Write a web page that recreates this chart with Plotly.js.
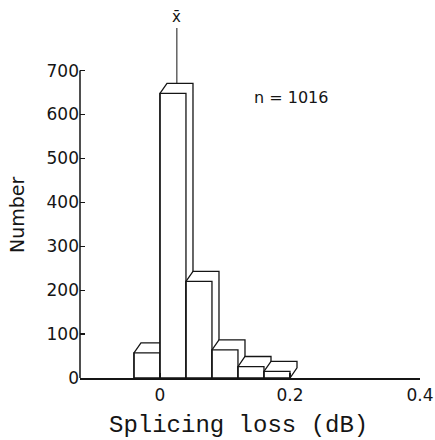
<!DOCTYPE html>
<html>
<head>
<meta charset="utf-8">
<script src="https://cdn.plot.ly/plotly-3.0.1.min.js"></script>
<style>html,body{margin:0;padding:0;background:#fff;}#chart{width:435px;height:440px;}</style>
</head>
<body>
<div id="chart"></div>
<script>
// Data
const binStarts = [-0.04, 0.00, 0.04, 0.08, 0.12, 0.16];
const binWidth = 0.04;
const counts = [57, 648, 220, 64, 26, 15];
const meanLoss = 0.026;
const sampleSize = 1016;
const xTickVals = [0, 0.2, 0.4];
const xTickText = ['0', '0.2', '0.4'];
const yTickVals = [0, 100, 200, 300, 400, 500, 600, 700];

// Pseudo-3D depth offset (in axis units)
const depthX = 0.0108;
const depthY = 23;

const ink = '#151515';
const traces = [];
binStarts.forEach((x0, i) => {
  const x1 = x0 + binWidth, h = counts[i];
  // outline of the whole block (front + top + side)
  traces.push({
    type: 'scatter', mode: 'lines', fill: 'toself', fillcolor: '#ffffff',
    x: [x0, x0, x0 + depthX, x1 + depthX, x1 + depthX, x1, x0],
    y: [0, h, h + depthY, h + depthY, depthY, 0, 0],
    line: {color: ink, width: 1.3}, hoverinfo: 'skip', showlegend: false
  });
  // front face
  traces.push({
    type: 'scatter', mode: 'lines',
    x: [x0, x0, x1, x1],
    y: [0, h, h, 0],
    line: {color: ink, width: 1.3}, hoverinfo: 'skip', showlegend: false
  });
});

const peak = Math.max(...counts);
const layout = {
  width: 435, height: 440,
  margin: {l: 80, r: 15, t: 10, b: 62},
  paper_bgcolor: '#fff', plot_bgcolor: '#fff',
  font: {family: 'DejaVu Sans', color: ink, size: 16},
  xaxis: {
    range: [-0.123, 0.4], showgrid: false, zeroline: false,
    showline: true, linecolor: ink, linewidth: 1.5,
    ticks: 'inside', ticklen: 5, tickwidth: 1.2, tickcolor: ink,
    tickvals: xTickVals, ticktext: xTickText,
    tickfont: {family: 'DejaVu Sans', size: 17, color: ink},
    ticklabelstandoff: 1
  },
  yaxis: {
    range: [0, 838], showgrid: false, zeroline: false, showline: false,
    ticks: 'inside', ticklen: 5, tickwidth: 1.2, tickcolor: ink,
    tickvals: yTickVals,
    tickfont: {family: 'DejaVu Sans', size: 17, color: ink},
    ticklabelstandoff: 0
  },
  shapes: [
    {type: 'line', xref: 'paper', yref: 'y', x0: 0, x1: 0, y0: 0, y1: 700,
     line: {color: ink, width: 1.5}},
    {type: 'line', xref: 'x', yref: 'y', x0: meanLoss, x1: meanLoss,
     y0: peak + depthY, y1: 797, line: {color: ink, width: 1}}
  ],
  annotations: [
    {xref: 'x', yref: 'y', x: meanLoss, y: 822, text: 'x\u0304', showarrow: false,
     xanchor: 'center', yanchor: 'middle',
     font: {family: 'DejaVu Sans', size: 15, color: ink}},
    {xref: 'x', yref: 'y', x: 0.2015, y: 638, text: 'n = ' + sampleSize, showarrow: false,
     xanchor: 'center', yanchor: 'middle',
     font: {family: 'DejaVu Sans', size: 16, color: ink}},
    {xref: 'paper', yref: 'paper', x: -0.185, y: 0.443, text: 'Number', textangle: -90,
     xanchor: 'center', yanchor: 'middle',
     showarrow: false, font: {family: 'DejaVu Sans', size: 19, color: ink}},
    {xref: 'paper', yref: 'paper', x: 0.465, y: -0.128, text: 'Splicing loss (dB)',
     xanchor: 'center', yanchor: 'middle',
     showarrow: false, font: {family: 'Liberation Mono', size: 24, color: ink}}
  ]
};

Plotly.newPlot('chart', traces, layout, {displayModeBar: false, staticPlot: true});
</script>
</body>
</html>
